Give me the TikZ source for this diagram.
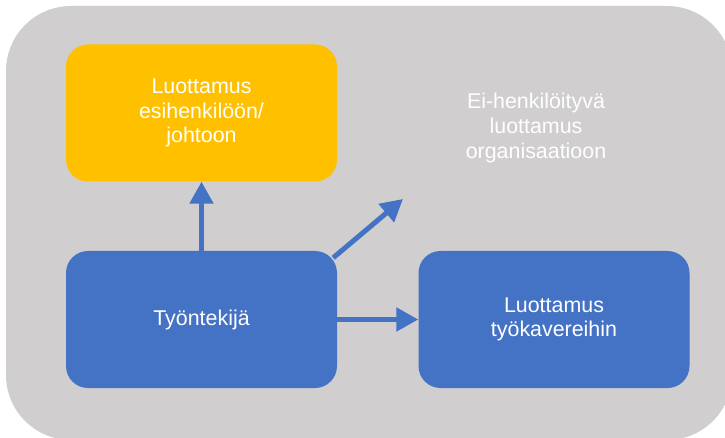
\documentclass[tikz,border=0pt]{standalone}
\usepackage{fontspec}
\setmainfont{Liberation Sans}
\usetikzlibrary{arrows.meta,calc}
\definecolor{panelgray}{HTML}{D0CECE}
\definecolor{boxyellow}{HTML}{FFC000}
\definecolor{boxblue}{HTML}{4472C4}
\tikzset{
  box/.style={rounded corners=22pt, minimum width=271pt, minimum height=137pt,
    inner sep=0pt, align=center, text=white,
    font=\fontsize{21.4}{24.6}\selectfont},
  plain/.style={inner sep=0pt, align=center, text=white,
    font=\fontsize{21.4}{24.6}\selectfont},
  link/.style={draw=boxblue, line width=5pt,
    -{Triangle[width=23pt,length=22pt]}}
}
\begin{document}
\begin{tikzpicture}[x=1pt, y=-1pt]
  \useasboundingbox (0,0) rectangle (725,438);
  \clip (0,0) rectangle (725,438);
  % background panel
  \fill[panelgray, rounded corners=65pt] (6,6) rectangle (732,440);
  % boxes
  \node[box, fill=boxyellow] (lead) at (201.5,113) {Luottamus\\esihenkilöön/\\johtoon};
  \node[box, fill=boxblue] (emp) at (201.5,319.5) {Työntekijä};
  \node[box, fill=boxblue] (peers) at (554,319.5) {Luottamus\\työkavereihin};
  \node[plain] (org) at (536,128) {Ei-henkilöityvä\\luottamus\\organisaatioon};
  % connectors
  \coordinate (diagstart) at ($(emp.north east)+(-4,7)$);
  \coordinate (diagend) at (403,199);
  \draw[link] (emp.north) -- (lead.south);
  \draw[link] (diagstart) -- (diagend);
  \draw[link] (emp.east) -- (peers.west);
\end{tikzpicture}
\end{document}
